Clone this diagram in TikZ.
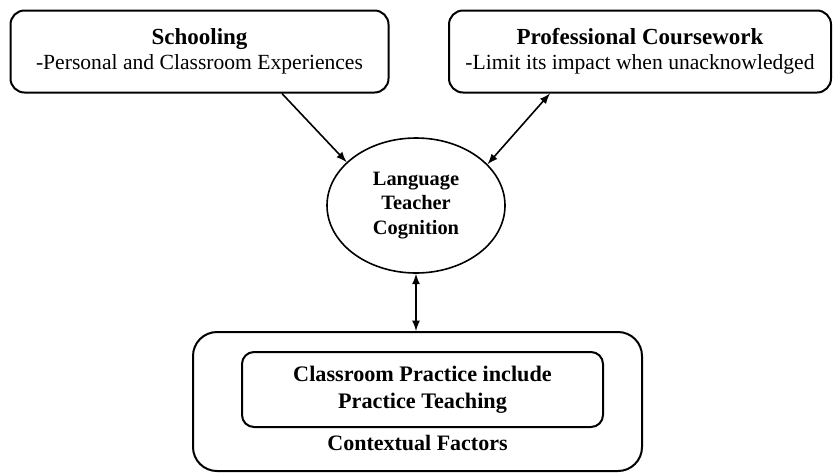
\documentclass[tikz,border=0pt]{standalone}
\usepackage{fontspec}
\setmainfont{Liberation Serif}
\usetikzlibrary{shapes,arrows}

\begin{document}
\begin{tikzpicture}[x=0.5pt,y=-0.5pt,
    box/.style={draw, line width=1pt, rounded corners=7pt, align=center, inner sep=0pt},
    link/.style={line width=0.8pt, -latex}]
\useasboundingbox (0,0) rectangle (833,472);
% top boxes
\node[box, minimum width=189pt, minimum height=41pt, font=\fontsize{10.8}{12.5}\selectfont] (school) at (199.5,51.5)
    {{\fontsize{11.5}{12.5}\selectfont\bfseries Schooling}\\-Personal and Classroom Experiences};
\node[box, minimum width=191pt, minimum height=41pt, font=\fontsize{10.8}{12.5}\selectfont] (prof) at (640,51.5)
    {{\fontsize{11.5}{12.5}\selectfont\bfseries Professional Coursework}\\-Limit its impact when unacknowledged};
% centre
\node[draw, ellipse, line width=0.8pt, minimum width=89pt, minimum height=67.5pt, align=center, inner sep=0pt,
    font=\fontsize{10.2}{12.3}\selectfont\bfseries] (ltc) at (416,205.5)
    {Language\\Teacher\\Cognition};
% bottom boxes
\node[box, rounded corners=12pt, minimum width=224.5pt, minimum height=69.5pt] (context) at (417.5,401.5) {};
\node[box, rounded corners=6pt, minimum width=180.5pt, minimum height=37.5pt,
    font=\fontsize{11.1}{13.5}\selectfont\bfseries] (practice) at (422.5,389.5)
    {Classroom Practice include\\Practice Teaching};
\node[font=\fontsize{11}{13}\selectfont\bfseries] (contextlabel) at (417.5,443) {Contextual Factors};
% arrows
\draw[link] (school.-27) -- (ltc.148);
\draw[link, latex-latex] (prof.205) -- (ltc.30);
\draw[link, latex-latex] (ltc.south) -- (ltc.south |- context.north);
\end{tikzpicture}
\end{document}
